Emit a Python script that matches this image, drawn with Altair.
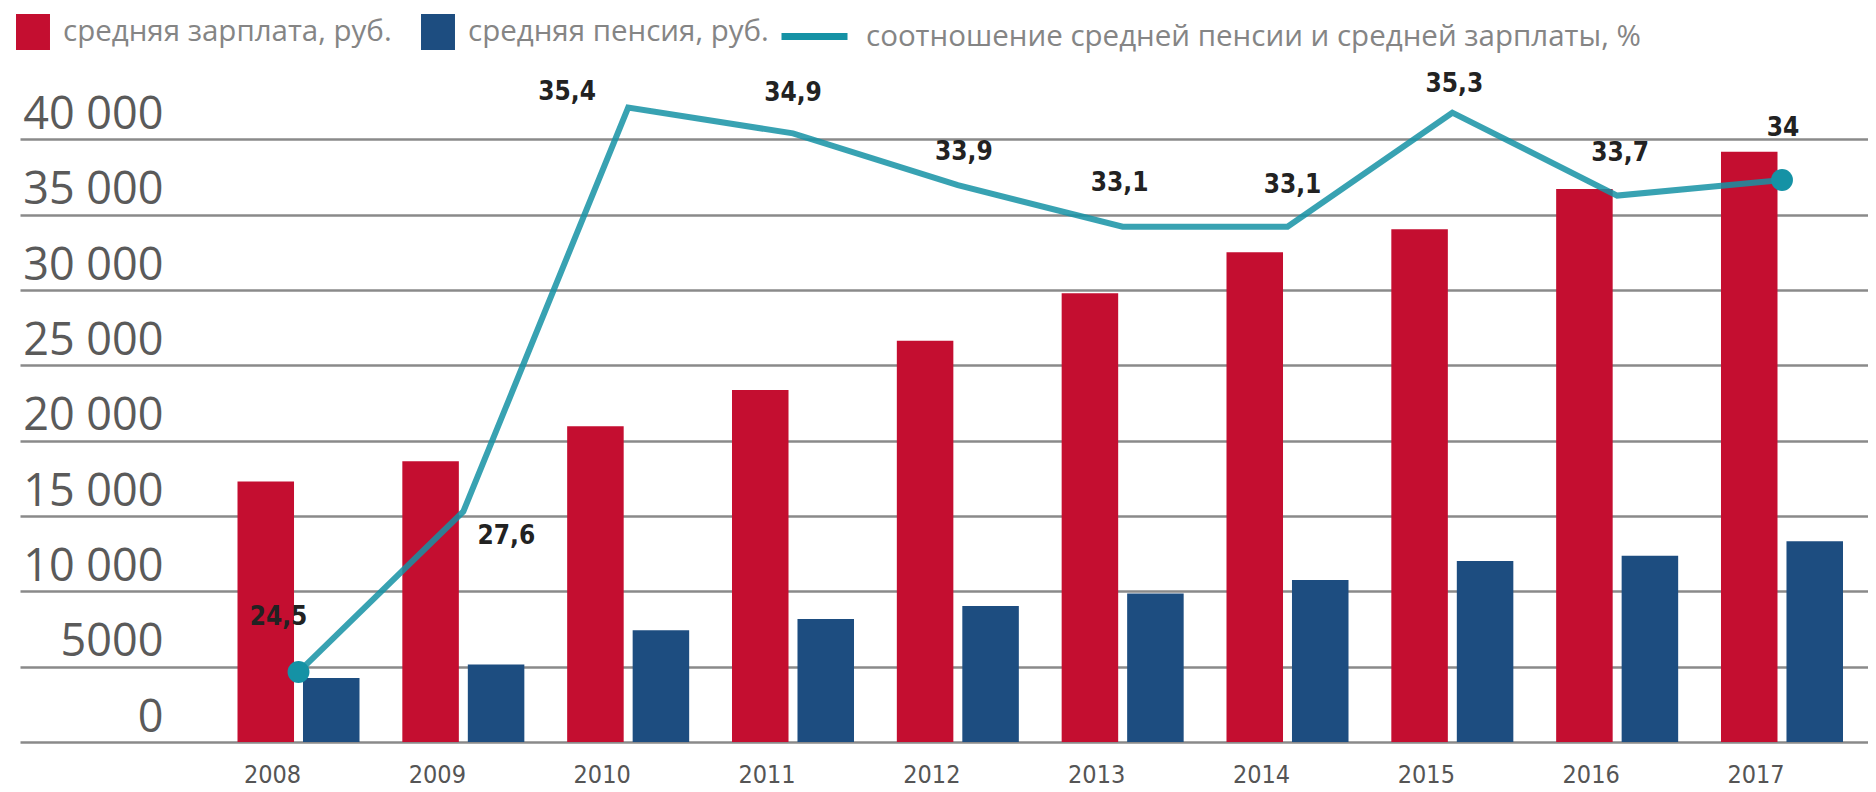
import altair as alt
import pandas as pd

# ---- data ----
years = [2008, 2009, 2010, 2011, 2012, 2013, 2014, 2015, 2016, 2017]
salary = [17290, 18640, 20950, 23370, 26630, 29790, 32500, 34030, 36710, 39170]
pension = [4240, 5140, 7420, 8160, 9030, 9860, 10760, 12010, 12370, 13320]
ratio = [24.5, 27.6, 35.4, 34.9, 33.9, 33.1, 33.1, 35.3, 33.7, 34.0]
ratio_labels = ["24,5", "27,6", "35,4", "34,9", "33,9", "33,1", "33,1", "35,3", "33,7", "34"]
bar_series = ["средняя зарплата, руб.", "средняя пенсия, руб."]
line_series = "соотношение средней пенсии и средней зарплаты, %"
y_ticks = [0, 5000, 10000, 15000, 20000, 25000, 30000, 35000, 40000]

bars_df = pd.DataFrame({
    "year": years + years,
    "series": [bar_series[0]] * len(years) + [bar_series[1]] * len(years),
    "value": salary + pension,
})
line_df = pd.DataFrame({
    "year": years,
    "ratio": ratio,
    "label": ratio_labels,
    "series": [line_series] * len(years),
})

# ---- styles ----
RED = "#c40e30"
BLUE = "#1d4d80"
TEAL = "#1592a5"
NARROW = "'Liberation Sans Narrow', 'DejaVu Sans Condensed', sans-serif"
LEG_FONT = "Open Sans"

x_scale = alt.Scale(paddingInner=0.2598, paddingOuter=0.7356, align=0.8969)
ratio_scale = alt.Scale(domain=[23.15, 36.24], nice=False, zero=False)

x_axis = alt.Axis(
    title=None, labelAngle=0, labelFont=NARROW, labelFontSize=25,
    labelColor="#555555", labelOffset=-26, labelPadding=20,
    ticks=False, domain=False, grid=False,
)

bars = alt.Chart(bars_df).mark_bar().encode(
    x=alt.X("year:O", scale=x_scale, axis=x_axis),
    xOffset=alt.XOffset("series:N", scale=alt.Scale(domain=bar_series, paddingInner=0.137, paddingOuter=0)),
    y=alt.Y(
        "value:Q",
        scale=alt.Scale(domain=[0, 45000], nice=False, zero=True),
        axis=alt.Axis(
            title=None, values=y_ticks, grid=True, gridColor="#8a8a8a", gridWidth=2.5,
            domain=False, ticks=False, tickSize=0, labelAlign="right", labelPadding=-143,
            labelBaseline="alphabetic", labelOffset=-11, labelFont="Open Sans",
            labelFontSize=45, labelColor="#5a5a5a",
            labelExpr="datum.value >= 10000 ? replace(format(datum.value, ','), ',', ' ') : format(datum.value, 'd')",
        ),
    ),
    color=alt.Color(
        "series:N",
        scale=alt.Scale(domain=bar_series, range=[RED, BLUE]),
        legend=alt.Legend(
            title=None, orient="none", legendX=-5, legendY=-50, direction="horizontal",
            symbolType="M-0.944,-1H0.944V1H-0.944Z", symbolSize=1296, symbolStrokeWidth=0,
            symbolOpacity=1, labelFont=LEG_FONT, labelFontSize=29.5, labelColor="#858585",
            labelOffset=12, labelLimit=0, columnPadding=28, padding=0,
        ),
    ),
)

line = alt.Chart(line_df).mark_line(strokeWidth=6, opacity=0.85, strokeJoin="miter").encode(
    x=alt.X("year:O", scale=x_scale, axis=x_axis),
    y=alt.Y("ratio:Q", scale=ratio_scale, axis=None),
    stroke=alt.Stroke(
        "series:N",
        scale=alt.Scale(domain=[line_series], range=[TEAL]),
        legend=alt.Legend(
            title=None, orient="none", legendX=758, legendY=-64,
            symbolType="stroke", symbolSize=4356, symbolStrokeWidth=7,
            symbolOpacity=1, labelFont=LEG_FONT, labelFontSize=29.5, labelColor="#858585",
            labelOffset=15, labelLimit=0, padding=0,
        ),
    ),
)

points = alt.Chart(line_df).mark_circle(size=480, color=TEAL, opacity=1).encode(
    x=alt.X("year:O", scale=x_scale, axis=x_axis),
    y=alt.Y("ratio:Q", scale=ratio_scale, axis=None),
).transform_filter(alt.FieldOneOfPredicate(field="year", oneOf=[years[0], years[-1]]))

label_offsets = {
    2008: (-20, -55), 2009: (43, 24), 2010: (-61, -16), 2011: (0, -40), 2012: (6, -33),
    2013: (-3, -44), 2014: (5, -42), 2015: (2, -29), 2016: (3, -43), 2017: (1, -52),
}
texts = []
for yr, (dx, dy) in label_offsets.items():
    texts.append(
        alt.Chart(line_df).mark_text(
            font=NARROW, fontWeight="bold", fontSize=26, color="#222222",
            dx=dx, dy=dy, align="center", baseline="middle",
        ).encode(
            x=alt.X("year:O", scale=x_scale, axis=x_axis),
            y=alt.Y("ratio:Q", scale=ratio_scale, axis=None),
            text="label:N",
        ).transform_filter(alt.datum.year == yr)
    )

ratio_layer = alt.layer(line, points, *texts)

chart = alt.layer(bars, ratio_layer).resolve_scale(y="independent").properties(
    width=1848, height=678,
    autosize=alt.AutoSizeParams(type="none"),
    padding={"left": 12, "top": 56, "right": 0, "bottom": 46},
).configure_view(strokeWidth=0)

chart.save("out.html", embed_options={"renderer": "svg", "actions": False})
